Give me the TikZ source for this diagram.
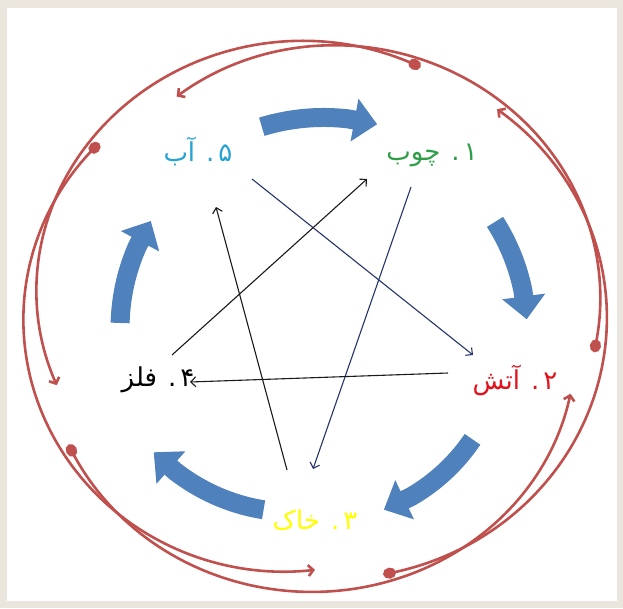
\documentclass[tikz,border=0pt]{standalone}
\usepackage{fontspec}
\usetikzlibrary{arrows.meta}
\TeXXeTstate=1
\newfontfamily\fafont[Script=Arabic]{DejaVu Sans}
\definecolor{bgbeige}{HTML}{EAE6DD}
\definecolor{arcred}{HTML}{C0504D}
\definecolor{cycblue}{HTML}{4F81BD}
\definecolor{navyline}{HTML}{25356A}
\definecolor{darkline}{HTML}{1A1A1A}
\definecolor{cwater}{HTML}{25A3D3}
\definecolor{cwood}{HTML}{2E9E48}
\definecolor{cfire}{HTML}{E0121C}
\definecolor{cearth}{HTML}{FFFF00}
% red arc: start angle, end angle, linear coeff, quadratic coeff (subtracted)
\newcommand{\myarc}[4]{\draw[redline] plot[domain=#1:#2, samples=90, variable=\t]
  ({315+292*(0.965+#3*((\t-#1)/(#2-#1))-#4*((\t-#1)/(#2-#1))^2)*cos(\t)},
   {315-277*(0.965+#3*((\t-#1)/(#2-#1))-#4*((\t-#1)/(#2-#1))^2)*sin(\t)});}
% blue arrow: start angle, end angle, start radius, end radius, angle where the straight tip segment begins
\newcommand{\cycarrow}[5]{\draw[cyclearrow] plot[domain=#1:#5, samples=30, variable=\t]
  ({322+(#3+(#4-#3)*(\t-#1)/(#2-#1))*cos(\t)},
   {330-(#3+(#4-#3)*(\t-#1)/(#2-#1))*sin(\t)})
  -- ({322+#4*cos(#2)},{330-#4*sin(#2)});}
\begin{document}
\begin{tikzpicture}[x=1pt,y=-1pt,
  lbl/.style={font=\fafont\fontsize{26}{30}\selectfont, inner sep=0pt},
  redline/.style={draw=arcred, line width=2.6pt, line join=round,
     {Circle[length=13pt,width=11pt]}-{Straight Barb[length=5pt,width=11pt]}},
  cyclearrow/.style={draw=cycblue, line width=19pt, line join=round,
     -{Triangle[length=23pt,width=42pt]}},
  navyarrow/.style={draw=navyline, line width=1.1pt,
     -{Straight Barb[length=5pt,width=10pt]}},
  darkarrow/.style={draw=darkline, line width=1.1pt,
     -{Straight Barb[length=5pt,width=10pt]}}]
\useasboundingbox (0,0) rectangle (623,608);
\fill[bgbeige] (0,0) rectangle (623,608);
\fill[white] (7,8) rectangle (617,601);

% outer red cycle
\myarc{352}{481}{0.1782}{0.2232}
\myarc{68}{196}{0.1782}{0.2232}
\myarc{140}{270}{0.1782}{0.2232}
\myarc{209}{342}{0.1782}{0.2232}
\myarc{284}{410}{0.1373}{0.1323}

% blue cycle arrows
\cycarrow{106.5}{75}{212}{213}{83}
\cycarrow{32}{3}{204}{205}{11}
\cycarrow{-36}{-71}{186}{190}{-62}
\cycarrow{252}{216}{189}{208}{224}
\cycarrow{178}{147.5}{202}{203}{155.5}

% labels
\node[lbl, text=cwater] (water) at (198,152) {\beginR ۵\kern4pt. آب\endR};
\node[lbl, text=cwood]  (wood)  at (432,155) {\beginR ۱\kern4pt. چوب\endR};
\node[lbl, text=cfire]  (fire)  at (515,380) {\beginR ۲\kern4pt. آتش\endR};
\node[lbl, text=black]  (metal) at (158,380) {\beginR ۴\kern4pt. فلز\endR};
\node[lbl, text=cearth] (earth) at (315,520) {\beginR ۳\kern4pt. خاک\endR};

% thin star arrows
\coordinate (wa) at (252,179); \coordinate (fa) at (473,355);
\coordinate (wo) at (411,187); \coordinate (ea) at (313,469);
\coordinate (fi) at (448,373); \coordinate (me) at (190,382);
\coordinate (mo) at (172,355); \coordinate (wi) at (367,179);
\coordinate (eo) at (287,470); \coordinate (wt) at (216,207);
\draw[navyarrow] (wa) -- (fa);
\draw[navyarrow] (wo) -- (ea);
\draw[darkarrow] (fi) -- (me);
\draw[darkarrow] (mo) -- (wi);
\draw[darkarrow] (eo) -- (wt);
\end{tikzpicture}
\end{document}
